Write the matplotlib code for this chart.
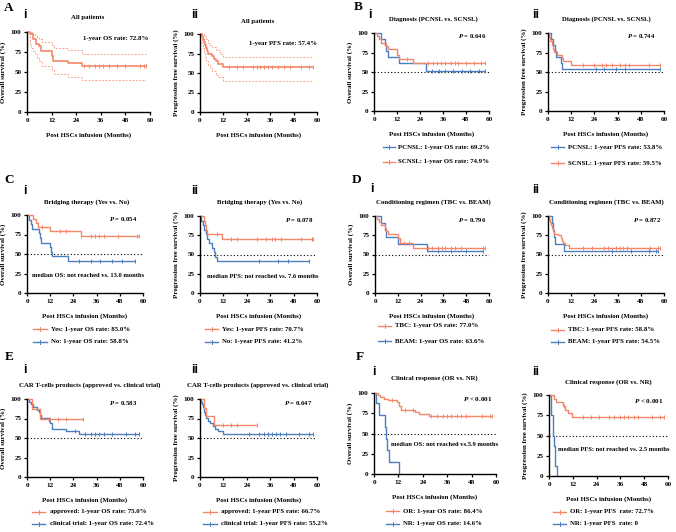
import matplotlib
matplotlib.use('Agg')
import matplotlib.pyplot as plt
from matplotlib.lines import Line2D
import numpy as np

W, H = 676, 532
ORANGE = '#F4876A'
BLUE = '#4E7DC0'
CICOL = '#F8A68C'

plt.rcParams['font.family'] = ['Liberation Serif', 'DejaVu Serif']
plt.rcParams['font.weight'] = 'bold'
plt.rcParams['mathtext.fontset'] = 'custom'
plt.rcParams['mathtext.it'] = 'Liberation Serif:italic:bold'
plt.rcParams['mathtext.rm'] = 'Liberation Serif:bold'

FS = 4.85
TFS = 5.1  # tick labels

# ---------------- data ----------------
x_ticks = [0, 12, 24, 36, 48, 60]
y_ticks = [0, 25, 50, 75, 100]

# A i: all patients OS with CI
A_os_t = [1.5, 3, 4.5, 6, 7, 12, 12.5, 20, 27]
A_os_s = [97, 91, 85, 82, 76, 70, 64, 61, 58]
A_os_c = [28, 30, 33, 35, 37, 40, 44, 48, 55, 57, 58]
A_os_up_t = [3, 4, 5, 6, 7.5, 12, 13, 20, 27]
A_os_up_s = [98, 96, 94, 91, 88, 84, 80, 78, 73]
A_os_lo_t = [1.5, 2, 3, 4, 5, 6, 7.5, 12, 13, 20, 27]
A_os_lo_s = [85, 80, 76, 72, 68, 64, 58, 52, 47, 44, 40]

# A ii: all patients PFS with CI
A_pfs_t = [1, 1.5, 2, 2.5, 3, 3.5, 4, 6, 7, 8, 9, 12]
A_pfs_s = [97, 94, 90, 86, 82, 78, 75, 72, 68, 65, 61, 57.4]
A_pfs_c = [15, 19, 22, 27, 29, 31, 33, 35, 37, 40, 43, 46, 52, 56, 58]
A_pfs_up_t = [2, 3, 4, 5, 6, 8, 10, 12]
A_pfs_up_s = [97, 93, 89, 86, 83, 79, 75, 71]
A_pfs_lo_t = [1, 1.5, 2, 2.5, 3, 4, 5, 6, 8, 9, 12]
A_pfs_lo_s = [88, 82, 76, 70, 65, 60, 56, 52, 48, 45, 40]

# B: diagnosis
B_os_pc_t = [3.5, 5.7, 6.4, 7.3, 13, 27.3]
B_os_pc_s = [92.3, 84.6, 76.9, 69.2, 61, 51]
B_os_pc_c = [30, 34, 37, 41, 46, 50, 55, 58]
B_os_sc_t = [1.5, 2.5, 3.5, 6.5, 7.5, 12, 13, 20.3]
B_os_sc_s = [96, 92, 87.5, 83.5, 79.5, 72, 67, 61]
B_os_sc_c = [17, 28, 31, 33, 35, 37, 40, 42, 44, 48, 52, 56, 58]
B_pfs_pc_t = [1.7, 2.6, 3.4, 4.3, 6.5, 7.2]
B_pfs_pc_s = [92.3, 84.6, 76.9, 69.2, 61.5, 53.8]
B_pfs_pc_c = [25, 29, 35, 40, 58]
B_pfs_sc_t = [0.5, 1, 2, 2.5, 3, 4.5, 7, 8, 12]
B_pfs_sc_s = [95, 90, 85, 80, 76, 72, 68, 64, 59.5]
B_pfs_sc_c = [18, 24, 28, 30, 33, 37, 40, 42, 52, 58]

# C: bridging therapy
C_os_yes_t = [2.9, 4.7, 5.9, 12, 27.9]
C_os_yes_s = [95, 90, 85, 80, 73]
C_os_yes_c = [8, 17, 20, 28, 33, 35, 37, 40, 47, 57, 58]
C_os_no_t = [1, 2, 2.5, 6, 6.5, 7, 12, 12.5, 13, 21]
C_os_no_s = [94.1, 88.2, 82.4, 76.5, 70.6, 64.7, 58.8, 52.9, 47.1, 41.2]
C_os_no_c = [27, 33, 38, 44, 49, 56]
C_pfs_yes_t = [2.2, 2.6, 3.0, 3.4, 11.5]
C_pfs_yes_s = [94, 88, 82, 76, 70.7]
C_pfs_yes_c = [8.5, 16, 19, 29, 34, 37, 38.5, 41.5, 52, 57.5, 58]
C_pfs_no_t = [0.5, 1.5, 2, 3, 3.5, 4.5, 6, 7, 7.5, 8.5]
C_pfs_no_s = [94.1, 88.2, 82.4, 76.5, 70.6, 64.7, 58.8, 52.9, 47.1, 41.2]
C_pfs_no_c = [30, 40, 45, 56]

# D: conditioning regimen
D_os_tbc_t = [1, 2, 3, 5, 6, 7, 12, 13, 20]
D_os_tbc_s = [96, 92, 88, 85, 81, 77, 71, 65, 59]
D_os_tbc_c = [15, 18, 28, 30, 33, 35, 37, 40, 42, 45, 57, 58]
D_os_beam_t = [3.1, 5, 5.8, 12, 27.6]
D_os_beam_s = [90.9, 81.8, 72.7, 63.6, 54.5]
D_os_beam_c = [33, 40, 48, 57]
D_pfs_tbc_t = [0.5, 1, 1.5, 2, 2.5, 3, 5, 6.5, 7, 8, 9, 11]
D_pfs_tbc_s = [96, 92, 88, 84, 80, 77, 75, 72, 68, 65, 62, 58.8]
D_pfs_tbc_c = [18, 23, 29, 31, 35, 37, 39, 41, 53, 57, 58]
D_pfs_beam_t = [2, 2.5, 3, 3.5, 8.5]
D_pfs_beam_s = [90.9, 81.8, 72.7, 63.6, 54.5]
D_pfs_beam_c = [33, 43, 52, 56, 57]

# E: CAR T-cell products
E_os_app_t = [2.5, 6.5]
E_os_app_s = [87.5, 75.0]
E_os_app_c = [12, 16, 20, 29]
E_os_ct_t = [1, 2, 3, 5, 6, 6.5, 7, 11.5, 12, 13, 20, 27]
E_os_ct_s = [96.6, 93.1, 89.7, 86.2, 82.8, 79.3, 75.9, 72.4, 69.0, 62.0, 58.6, 55.0]
E_os_ct_c = [25, 30, 33, 35, 37, 40, 44, 51, 56, 58]
E_pfs_app_t = [2.3, 3, 7.3]
E_pfs_app_s = [88.9, 77.8, 66.7]
E_pfs_app_c = [12, 16, 19, 29]
E_pfs_ct_t = [0.5, 1, 1.5, 2, 2.2, 2.5, 3, 4, 5, 6.5, 7.5, 9, 12]
E_pfs_ct_s = [96.6, 93.1, 89.7, 86.2, 82.8, 79.3, 75.9, 72.4, 69.0, 65.5, 62.1, 58.6, 55.2]
E_pfs_ct_c = [25, 30, 33, 35, 37, 39, 41, 44, 51, 56, 58]

# F: clinical response
F_os_or_t = [2, 3, 5, 7, 11.5, 12.5, 13.5, 20, 22, 27]
F_os_or_s = [97.7, 95.4, 93.1, 90.8, 88.5, 84.0, 79.5, 77.0, 74.5, 71.5]
F_os_or_c = [9, 15, 19, 28, 31, 34, 36, 38, 41, 43, 45, 53, 57, 58]
F_os_nr_t = [1, 2.5, 5.5, 6, 6.6, 7.4, 12.3]
F_os_nr_s = [87.5, 72.9, 58.3, 43.8, 29.2, 14.6, 0]
F_os_nr_c = []
F_pfs_or_t = [2.5, 3.5, 7, 8, 9.5, 11.5]
F_pfs_or_s = [95.5, 90.9, 86.4, 81.8, 77.3, 72.7]
F_pfs_or_c = [7.5, 17, 21, 25, 30, 33, 36, 38, 40, 43, 45, 52, 56, 58]
F_pfs_nr_t = [0.8, 1.2, 1.8, 2.2, 2.5, 2.8, 3.2, 4.2]
F_pfs_nr_s = [87.5, 75, 62.5, 50, 37.5, 25, 12.5, 0]
F_pfs_nr_c = []

# ---------------- drawing ----------------
fig = plt.figure(figsize=(W / 100, H / 100), dpi=100)


def fx(x):
    return x / W


def fy(y):
    return 1 - y / H


def add_ax(x0, x60, y100, y0, ylabel):
    ax = fig.add_axes([fx(x0), fy(y0), (x60 - x0) / W, (y0 - y100) / H])
    ax.set_xlim(0, 60)
    ax.set_ylim(0, 100)
    ax.set_xticks(x_ticks)
    ax.set_yticks(y_ticks)
    ax.tick_params(labelsize=TFS, length=2.5, width=0.9, pad=1.5)
    for lab in ax.get_xticklabels() + ax.get_yticklabels():
        lab.set_fontweight('bold')
    for sp in ['top', 'right']:
        ax.spines[sp].set_visible(False)
    for sp in ['left', 'bottom']:
        ax.spines[sp].set_linewidth(1.0)
    ax.set_xlabel('Post HSCs infusion (Months)', fontsize=FS + 0.1, fontweight='bold')
    ax.set_ylabel(ylabel, fontsize=FS + 0.1, fontweight='bold')
    w = x60 - x0
    h = y0 - y100
    ax.xaxis.set_label_coords(0.5, -20 / h)
    ax.yaxis.set_label_coords(-21 / w, 0.5)
    ax.set_facecolor('none')
    return ax


def km(ax, t, s, c, color, ls='-', lw=1.0, end=None, censor=True):
    xs = [0] + list(t)
    ys = [100] + list(s)
    xe = end if end is not None else max(list(c) + [t[-1]])
    if xe > xs[-1]:
        xs.append(xe)
        ys.append(ys[-1])
    ax.plot(xs, ys, drawstyle='steps-post', color=color, lw=lw, ls=ls,
            clip_on=False, solid_capstyle='butt')
    if censor and len(c):
        idx = np.searchsorted(np.array(xs), np.array(c), side='right') - 1
        cy = np.array(ys)[idx]
        ax.plot(c, cy, ls='none', marker='|', ms=3.2, mew=0.7, color=color,
                clip_on=False)


def ref50(ax):
    ax.plot([0, 60], [50, 50], ls=(0, (1, 2)), color='black', lw=0.8)


def ftext(x, y, s, size=FS, ha='center', **kw):
    fig.text(fx(x), fy(y), s, fontsize=size, ha=ha, va='center',
             fontweight='bold', **kw)


def legend_entry(x1, x2, xt, y, color, label):
    fig.add_artist(Line2D([fx(x1), fx(x2)], [fy(y), fy(y)], color=color, lw=1.0))
    fig.add_artist(Line2D([fx((x1 + x2) / 2)] * 2, [fy(y - 1.6), fy(y + 1.6)],
                          color=color, lw=0.7))
    ftext(xt, y, label, ha='left')


def atext(ax, x, y, s, ha='left', size=FS):
    ax.text(x, y, s, fontsize=size, ha=ha, va='center', fontweight='bold')


OS = 'Overall survival (%)'
PFS = 'Progression free survival (%)'

# panel letters
for letter, (x, y) in {'A': (9, 8), 'B': (358, 7), 'C': (9, 180),
                       'D': (357, 180), 'E': (9, 357), 'F': (360, 357)}.items():
    ftext(x, y, letter, size=9.5)

# ---- A i
ax = add_ax(27, 150, 32, 112, OS)
km(ax, A_os_up_t, A_os_up_s, [], CICOL, ls=(0, (2, 1.5)), lw=0.7, end=58, censor=False)
km(ax, A_os_lo_t, A_os_lo_s, [], CICOL, ls=(0, (2, 1.5)), lw=0.7, end=58, censor=False)
km(ax, A_os_t, A_os_s, A_os_c, ORANGE, lw=1.2)
atext(ax, 59, 92, '1-year OS rate: 72.8%', ha='right')
ftext(25, 15, 'i', size=9, family='Liberation Sans')
ftext(88, 17, 'All patients')

# ---- A ii
ax = add_ax(200, 317, 34, 112, PFS)
km(ax, A_pfs_up_t, A_pfs_up_s, [], CICOL, ls=(0, (2, 1.5)), lw=0.7, end=58, censor=False)
km(ax, A_pfs_lo_t, A_pfs_lo_s, [], CICOL, ls=(0, (2, 1.5)), lw=0.7, end=58, censor=False)
km(ax, A_pfs_t, A_pfs_s, A_pfs_c, ORANGE, lw=1.2)
atext(ax, 60, 88, '1-year PFS rate: 57.4%', ha='right')
ftext(195, 15, 'ii', size=9, family='Liberation Sans')
ftext(258, 21, 'All patients')

# ---- B i
ax = add_ax(374, 489, 33, 111, OS)
ref50(ax)
km(ax, B_os_pc_t, B_os_pc_s, B_os_pc_c, BLUE)
km(ax, B_os_sc_t, B_os_sc_s, B_os_sc_c, ORANGE)
atext(ax, 58.5, 96, '$P$ = 0.646', ha='right')
ftext(370, 15, 'i', size=9, family='Liberation Sans')
ftext(433, 19, 'Diagnosis (PCNSL vs. SCNSL)')
legend_entry(383, 395, 398, 147, BLUE, 'PCNSL: 1-year OS rate: 69.2%')
legend_entry(383, 395, 398, 162, ORANGE, 'SCNSL: 1-year OS rate: 74.9%')

# ---- B ii
ax = add_ax(548, 664, 33, 111, PFS)
ref50(ax)
km(ax, B_pfs_pc_t, B_pfs_pc_s, B_pfs_pc_c, BLUE)
km(ax, B_pfs_sc_t, B_pfs_sc_s, B_pfs_sc_c, ORANGE)
atext(ax, 55.5, 96, '$P$ = 0.744', ha='right')
ftext(536, 15, 'ii', size=9, family='Liberation Sans')
ftext(606, 19, 'Diagnosis (PCNSL vs. SCNSL)')
legend_entry(551, 564, 568, 147, BLUE, 'PCNSL: 1-year PFS rate: 53.8%')
legend_entry(551, 564, 568, 163, ORANGE, 'SCNSL: 1-year PFS rate: 59.5%')

# ---- C i
ax = add_ax(27, 143, 215, 293, OS)
ref50(ax)
km(ax, C_os_no_t, C_os_no_s, C_os_no_c, BLUE)
km(ax, C_os_yes_t, C_os_yes_s, C_os_yes_c, ORANGE)
atext(ax, 57, 95, '$P$ = 0.054', ha='right')
atext(ax, 2.6, 22, 'median OS: not reached vs. 13.0 months', size=FS - 0.2)
ftext(25, 191, 'i', size=9, family='Liberation Sans')
ftext(87, 202, 'Bridging therapy (Yes vs. No)')
legend_entry(33, 47, 51, 329, ORANGE, 'Yes: 1-year OS rate: 85.0%')
legend_entry(33, 47, 51, 342, BLUE, 'No: 1-year OS rate: 58.8%')

# ---- C ii
ax = add_ax(200, 317, 216, 293, PFS)
ref50(ax)
km(ax, C_pfs_no_t, C_pfs_no_s, C_pfs_no_c, BLUE)
km(ax, C_pfs_yes_t, C_pfs_yes_s, C_pfs_yes_c, ORANGE)
atext(ax, 58, 95, '$P$ = 0.078', ha='right')
atext(ax, 3.6, 22, 'median PFS: not reached vs. 7.6 months', size=FS - 0.2)
ftext(195, 191, 'ii', size=9, family='Liberation Sans')
ftext(260, 202, 'Bridging therapy (Yes vs. No)')
legend_entry(205, 218, 222, 329, ORANGE, 'Yes: 1-year PFS rate: 70.7%')
legend_entry(205, 218, 222, 342, BLUE, 'No: 1-year PFS rate: 41.2%')

# ---- D i
ax = add_ax(375, 489, 216, 293, OS)
ref50(ax)
km(ax, D_os_beam_t, D_os_beam_s, D_os_beam_c, BLUE)
km(ax, D_os_tbc_t, D_os_tbc_s, D_os_tbc_c, ORANGE)
atext(ax, 58.4, 95, '$P$ = 0.796', ha='right')
ftext(372, 189, 'i', size=9, family='Liberation Sans')
ftext(433, 202, 'Conditioning regimen (TBC vs. BEAM)')
legend_entry(378, 391, 395, 326, ORANGE, 'TBC: 1-year OS rate: 77.0%')
legend_entry(378, 391, 395, 341, BLUE, 'BEAM: 1-year OS rate: 63.6%')

# ---- D ii
ax = add_ax(548, 664, 216, 293, PFS)
ref50(ax)
km(ax, D_pfs_beam_t, D_pfs_beam_s, D_pfs_beam_c, BLUE)
km(ax, D_pfs_tbc_t, D_pfs_tbc_s, D_pfs_tbc_c, ORANGE)
atext(ax, 58.4, 95, '$P$ = 0.872', ha='right')
ftext(536, 190, 'ii', size=9, family='Liberation Sans')
ftext(606, 202, 'Conditioning regimen (TBC vs. BEAM)')
legend_entry(551, 564, 568, 330, ORANGE, 'TBC: 1-year PFS rate: 58.8%')
legend_entry(551, 564, 568, 342, BLUE, 'BEAM: 1-year PFS rate: 54.5%')

# ---- E i
ax = add_ax(27, 143, 399, 477, OS)
ref50(ax)
km(ax, E_os_ct_t, E_os_ct_s, E_os_ct_c, BLUE)
km(ax, E_os_app_t, E_os_app_s, E_os_app_c, ORANGE)
atext(ax, 57, 95, '$P$ = 0.583', ha='right')
ftext(25, 370, 'i', size=9, family='Liberation Sans')
ftext(90, 385, 'CAR T-cells products (approved vs. clinical trial)')
legend_entry(32, 45, 50, 512, ORANGE, 'approved: 1-year OS rate: 75.0%')
legend_entry(32, 45, 50, 524, BLUE, 'clinical trial: 1-year OS rate: 72.4%')

# ---- E ii
ax = add_ax(200, 317, 399, 477, PFS)
ref50(ax)
km(ax, E_pfs_ct_t, E_pfs_ct_s, E_pfs_ct_c, BLUE)
km(ax, E_pfs_app_t, E_pfs_app_s, E_pfs_app_c, ORANGE)
atext(ax, 57.4, 95, '$P$ = 0.647', ha='right')
ftext(195, 370, 'ii', size=9, family='Liberation Sans')
ftext(258, 385, 'CAR T-cells products (approved vs. clinical trial)')
legend_entry(203, 217, 221, 512, ORANGE, 'approved: 1-year PFS rate: 66.7%')
legend_entry(203, 217, 221, 524, BLUE, 'clinical trial: 1-year PFS rate: 55.2%')

# ---- F i
ax = add_ax(374, 496, 393, 474, OS)
ref50(ax)
km(ax, F_os_nr_t, F_os_nr_s, F_os_nr_c, BLUE)
km(ax, F_os_or_t, F_os_or_s, F_os_or_c, ORANGE)
atext(ax, 58.5, 93, '$P$ < 0.001', ha='right', size=FS + 0.3)
atext(ax, 8.4, 37, 'median OS: not reached vs.5.9 months', size=FS - 0.2)
ftext(374, 372, 'i', size=9, family='Liberation Sans')
ftext(434, 378, 'Clinical response (OR vs. NR)')
legend_entry(386, 399, 403, 511, ORANGE, 'OR: 1-year OS rate: 86.4%')
legend_entry(386, 399, 403, 524, BLUE, 'NR: 1-year OS rate: 14.6%')

# ---- F ii
ax = add_ax(549, 668, 395, 476, PFS)
ref50(ax)
km(ax, F_pfs_nr_t, F_pfs_nr_s, F_pfs_nr_c, BLUE)
km(ax, F_pfs_or_t, F_pfs_or_s, F_pfs_or_c, ORANGE)
atext(ax, 58, 93, '$P$ < 0.001', ha='right', size=FS + 0.3)
atext(ax, 4.5, 33, 'median PFS: not reached vs. 2.5 months', size=FS - 0.2)
ftext(536, 372, 'ii', size=9, family='Liberation Sans')
ftext(608, 382, 'Clinical response (OR vs. NR)')
legend_entry(553, 566, 570, 512, ORANGE, 'OR: 1-year PFS  rate: 72.7%')
legend_entry(553, 566, 570, 524, BLUE, 'NR: 1-year PFS  rate: 0')

fig.savefig('out.png', dpi=100)
